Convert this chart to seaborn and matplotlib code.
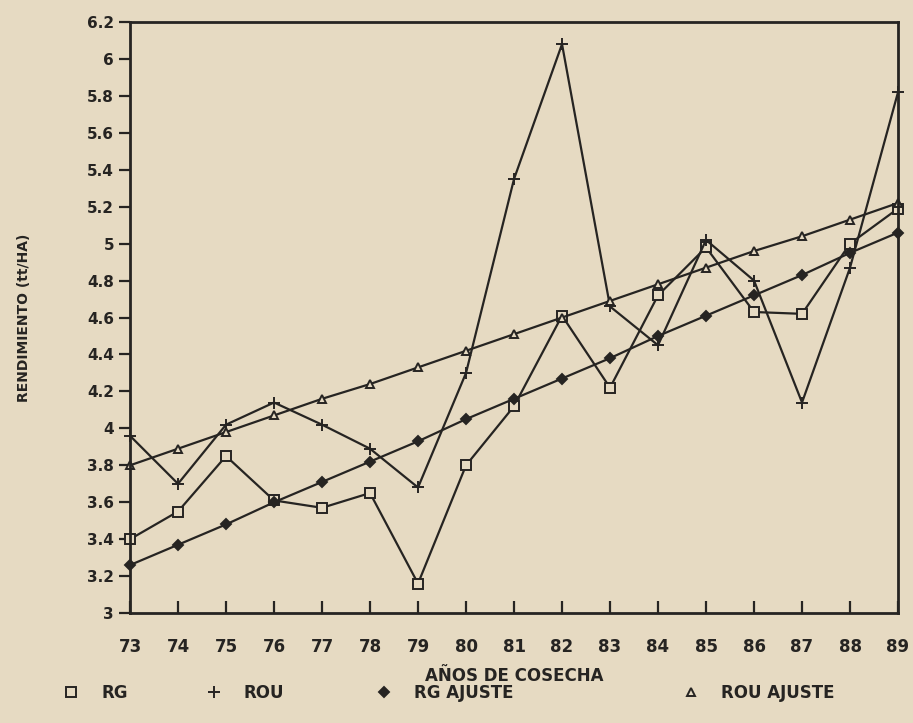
import pandas as pd
import matplotlib
matplotlib.use('Agg')
import matplotlib.pyplot as plt
from matplotlib.lines import Line2D
import seaborn as sns

# values
years = [73, 74, 75, 76, 77, 78, 79, 80, 81, 82, 83, 84, 85, 86, 87, 88, 89]
rg = [3.40, 3.55, 3.85, 3.61, 3.57, 3.65, 3.16, 3.80, 4.12, 4.61, 4.22, 4.72, 4.98, 4.63, 4.62, 5.00, 5.19]
rou = [3.96, 3.70, 4.02, 4.14, 4.02, 3.89, 3.68, 4.30, 5.35, 6.08, 4.66, 4.45, 5.02, 4.80, 4.14, 4.87, 5.82]
rg_ajuste = [3.26, 3.37, 3.48, 3.60, 3.71, 3.82, 3.93, 4.05, 4.16, 4.27, 4.38, 4.50, 4.61, 4.72, 4.83, 4.95, 5.06]
rou_ajuste = [3.80, 3.89, 3.98, 4.07, 4.16, 4.24, 4.33, 4.42, 4.51, 4.60, 4.69, 4.78, 4.87, 4.96, 5.04, 5.13, 5.22]

ytick_vals = [3, 3.2, 3.4, 3.6, 3.8, 4, 4.2, 4.4, 4.6, 4.8, 5, 5.2, 5.4, 5.6, 5.8, 6, 6.2]

paper = '#e6dac2'
ink = '#262422'

sns.set_theme(style='ticks')
plt.rcParams['font.family'] = ['DejaVu Sans']
plt.rcParams['font.weight'] = 'bold'

df = pd.DataFrame({'year': years, 'RG': rg, 'ROU': rou,
                   'RG AJUSTE': rg_ajuste, 'ROU AJUSTE': rou_ajuste})

fig = plt.figure(figsize=(9.13, 7.23), dpi=100, facecolor=paper)
ax = fig.add_axes([0.1424, 0.152, 0.8412, 0.8176])
ax.set_facecolor(paper)

series = [
    ('RG', 's', 7, paper),
    ('ROU', '+', 9, ink),
    ('RG AJUSTE', 'D', 5, ink),
    ('ROU AJUSTE', '^', 6, paper),
]
for name, mk, ms, fc in series:
    sns.lineplot(data=df, x='year', y=name, ax=ax, color=ink, lw=1.6,
                 marker=mk, markersize=ms, markerfacecolor=fc,
                 markeredgecolor=ink, markeredgewidth=1.4, clip_on=False)

ax.set_xlim(73, 89)
ax.set_ylim(3, 6.2)
ax.set_xticks(years)
ax.set_xticklabels([str(y) for y in years], fontsize=12, fontweight='bold', color=ink)
ax.set_yticks(ytick_vals)
ax.set_yticklabels([f'{v:g}' for v in ytick_vals], fontsize=11, fontweight='bold', color=ink)
ax.tick_params(axis='x', direction='in', length=9, width=1.6, color=ink, pad=18)
ax.tick_params(axis='y', direction='out', length=8, width=1.6, color=ink)
for side in ['left', 'bottom', 'right', 'top']:
    ax.spines[side].set_visible(True)
    ax.spines[side].set_linewidth(2)
    ax.spines[side].set_color(ink)

ax.set_xlabel('AÑOS DE COSECHA', fontsize=12, fontweight='bold', color=ink, labelpad=8)
ax.set_ylabel('RENDIMIENTO (tt/HA)', fontsize=10, fontweight='bold', color=ink, labelpad=40)

# one small legend per entry, spaced like the original key under the chart
legend_x = [0.0504, 0.207, 0.393, 0.729]
for (name, mk, ms, fc), lx in zip(series, legend_x):
    h = Line2D([], [], ls='none', marker=mk, markersize=ms, markerfacecolor=fc,
               markeredgecolor=ink, markeredgewidth=1.4, color=ink)
    fig.legend([h], [name], loc='center left', bbox_to_anchor=(lx, 0.042),
               frameon=False, handletextpad=1.2, handlelength=1.2,
               prop={'size': 12, 'weight': 'bold'}, labelcolor=ink)

fig.savefig('out.png', dpi=100, facecolor=paper)
